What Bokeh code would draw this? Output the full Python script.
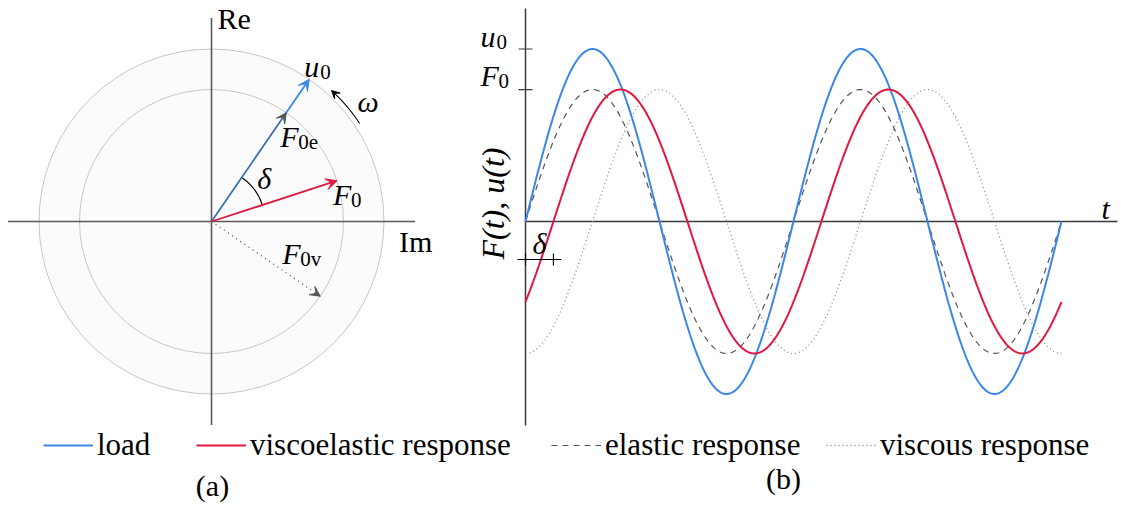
import numpy as np
from bokeh.plotting import figure
from bokeh.layouts import column, row
from bokeh.models import Range1d, Arrow, VeeHead, Legend, LegendItem
from bokeh.core.properties import value
from bokeh.embed import file_html
from bokeh.resources import INLINE

# ---- values ---------------------------------------------------------------
u0_amp = 1.0              # load amplitude (normalised)
F0_amp = 0.765            # response amplitude
load_angle_deg = 55.5     # direction of the u0 phasor in the complex plane
delta_deg = 37.5          # phase lag of the viscoelastic response
viscous_lag_deg = 90.0    # phase lag of the purely viscous response
n_periods = 2

legend_labels = ["load", "viscoelastic response", "elastic response", "viscous response"]
panel_labels = ["(a)", "(b)"]

# ---- styles ---------------------------------------------------------------
BLUE = "#3b87e8"
RED = "#e0173f"
DARK = "#555555"
AXIS = "#5a5a5a"
FONT = value("Liberation Serif")
FS = 30        # main text size (px)
FS_SUB = 21    # subscript size (px)

S = 172.5                      # px per amplitude unit
KX = 268.0 / (2 * np.pi)       # px per radian in the time plot
TOP_H = 427                    # height of the two diagram panels
LEG_H = 505 - TOP_H            # height of the legend strip


def put_text(p, x, y, s, dx=0, dy=0, size=FS, style="italic", align="left",
             baseline="alphabetic", angle=0.0):
    # pull the glyph box up so that (dx, dy) lands on the alphabetic baseline
    lift = 0.3 * size
    dx = dx - lift * np.sin(angle)
    dy = dy - lift * np.cos(angle)
    p.text(x=[x], y=[y], text=[s], x_offset=dx, y_offset=dy, angle=angle,
           text_font=FONT, text_font_style=style, text_font_size=f"{size}px",
           text_align=align, text_baseline=baseline, text_color="black")


def math_label(p, x, y, main, sub, dx, dy, sub_dx):
    put_text(p, x, y, main, dx, dy)
    put_text(p, x, y, sub, dx + sub_dx, dy + 3, size=FS_SUB, style="normal")


def bare_figure(width, height, x_range, y_range):
    p = figure(width=width, height=height, x_range=x_range, y_range=y_range,
               toolbar_location=None, output_backend="svg",
               x_axis_location=None, y_axis_location=None, min_border=0)
    p.grid.visible = False
    p.outline_line_color = None
    p.background_fill_color = "white"
    p.border_fill_color = "white"
    return p


# ---- (a) phasor diagram ---------------------------------------------------
fa = bare_figure(470, TOP_H, Range1d(-211 / S, 259 / S), Range1d(-(TOP_H - 221) / S, 221 / S))

fa.circle(x=[0, 0], y=[0, 0], radius=[u0_amp, F0_amp], fill_color="#fbfbfb", fill_alpha=1.0,
          line_color="#c6c6c6", line_width=1)

ext = 1.18 * u0_amp
fa.segment(x0=[-ext, 0], y0=[0, -ext], x1=[ext, 0], y1=[0, ext],
           line_color=AXIS, line_width=1.6)

a = np.radians(load_angle_deg)
d = np.radians(delta_deg)
v = np.radians(viscous_lag_deg)

u_tip = (u0_amp * np.cos(a), u0_amp * np.sin(a))
fe_tip = (F0_amp * np.cos(a), F0_amp * np.sin(a))
f_tip = (F0_amp * np.cos(a - d), F0_amp * np.sin(a - d))
fv_tip = (F0_amp * np.cos(a - v), F0_amp * np.sin(a - v))


def vector(p, tip, color, width, dash="solid", head=10, alpha=1.0):
    p.add_layout(Arrow(x_start=0, y_start=0, x_end=tip[0], y_end=tip[1],
                       line_color=color, line_width=width, line_dash=dash, line_alpha=alpha,
                       end=VeeHead(size=head, fill_color=color, line_color=color,
                                   line_width=1)))


vector(fa, fv_tip, DARK, 1.3, dash="1 4", head=10)
vector(fa, u_tip, BLUE, 1.8, head=11)
vector(fa, fe_tip, DARK, 1.1, head=10, alpha=0.6)
vector(fa, f_tip, RED, 1.8, head=11)

# phase angle between load and response
r_d = 0.31 * u0_amp
fa.arc(x=0, y=0, radius=r_d, start_angle=a - d, end_angle=a, line_color="black", line_width=1.1)

# sense of rotation
r_w = 1.03 * u0_amp
w0, w1 = np.radians(33.5), np.radians(47.5)
fa.arc(x=0, y=0, radius=r_w, start_angle=w0, end_angle=w1 - 0.02, line_color="black", line_width=1.1)
fa.add_layout(Arrow(x_start=r_w * np.cos(w1 - 0.03), y_start=r_w * np.sin(w1 - 0.03),
                    x_end=r_w * np.cos(w1), y_end=r_w * np.sin(w1),
                    line_color="black", line_width=1.1,
                    end=VeeHead(size=8, fill_color="black", line_color="black", line_width=1)))

put_text(fa, 0, ext, "Re", 6, 10, style="normal")
put_text(fa, ext, 0, "Im", -16, 29, style="normal")
math_label(fa, *u_tip, "u", "0", -5, -4, 16)
wm = (w0 + w1) / 2
put_text(fa, r_w * np.cos(wm), r_w * np.sin(wm), "ω", 11, 4)
math_label(fa, *fe_tip, "F", "0e", -6, 33, 18)
dm = a - d / 2
put_text(fa, r_d * np.cos(dm), r_d * np.sin(dm), "δ", 3, -2)
math_label(fa, *f_tip, "F", "0", -4, 23, 18)
math_label(fa, *fv_tip, "F", "0v", -38, -34, 18)

# ---- (b) time signals -----------------------------------------------------
fb = bare_figure(651, TOP_H, Range1d(-55 / KX, 596 / KX), Range1d(-(TOP_H - 221) / S, 221 / S))

theta = np.linspace(0, 2 * np.pi * n_periods, 600)
load = u0_amp * np.sin(theta)
visco = F0_amp * np.sin(theta - d)
elastic = F0_amp * np.sin(theta)
viscous = F0_amp * np.sin(theta - v)

t_end = 592 / KX
fb.segment(x0=[0, 0], y0=[0, -1.183 * u0_amp], x1=[t_end, 0], y1=[0, 1.235 * u0_amp],
           line_color="#3a3a3a", line_width=1.5)
fb.scatter(x=[0, 0], y=[u0_amp, F0_amp], marker="dash", size=14,
           line_color="#3a3a3a", line_width=1.2)

fb.line(theta, viscous, line_color="#8a8a8a", line_width=1.3, line_dash="1 3")
fb.line(theta, elastic, line_color=DARK, line_width=1.2, line_dash="6 5")
fb.line(theta, load, line_color=BLUE, line_width=2)
fb.line(theta, visco, line_color=RED, line_width=2)

# phase lag marker
ym = -0.22 * u0_amp
pad = 8 / KX
fb.segment(x0=[-pad], y0=[ym], x1=[d + pad], y1=[ym], line_color="black", line_width=1.1)
fb.scatter(x=[0, d], y=[ym, ym], marker="dash", angle=np.pi / 2, size=12,
           line_color="black", line_width=1.1)
put_text(fb, d / 2, ym, "δ", 0, -7, align="center")

math_label(fb, 0, u0_amp, "u", "0", -45, -4, 16)
math_label(fb, 0, F0_amp, "F", "0", -45, -5, 18)
put_text(fb, t_end, 0, "t", -16, -4)
put_text(fb, 0, 0, "F(t),  u(t)", -23, -22, size=32, align="center", angle=np.pi / 2)

# ---- legend strip and panel captions ---------------------------------------
fl = bare_figure(1121, LEG_H, Range1d(0, 1121), Range1d(0, LEG_H))
styles = [dict(line_color=BLUE, line_width=2),
          dict(line_color=RED, line_width=2),
          dict(line_color=DARK, line_width=1.2, line_dash="6 5"),
          dict(line_color="#8a8a8a", line_width=1.3, line_dash="1 3")]
starts = [43, 196, 551, 826]
for lab, st, x0 in zip(legend_labels, styles, starts):
    r = fl.line(x=np.array([np.nan]), y=np.array([np.nan]), **st)
    fl.add_layout(Legend(items=[LegendItem(label=lab, renderers=[r])], location=(x0, 42),
                         orientation="horizontal", glyph_width=50, glyph_height=32,
                         label_height=20, label_standoff=4, padding=0, margin=0, spacing=0,
                         border_line_alpha=0, background_fill_alpha=0,
                         label_text_font="Liberation Serif", label_text_font_size="31px",
                         label_text_color="black", label_text_baseline="bottom"))

put_text(fl, 212, 11, panel_labels[0], align="center", style="normal")
put_text(fl, 783, 18, panel_labels[1], align="center", style="normal")

layout = column(row(fa, fb, spacing=0), fl, spacing=0)
open("out.html", "w").write(file_html(layout, INLINE))
